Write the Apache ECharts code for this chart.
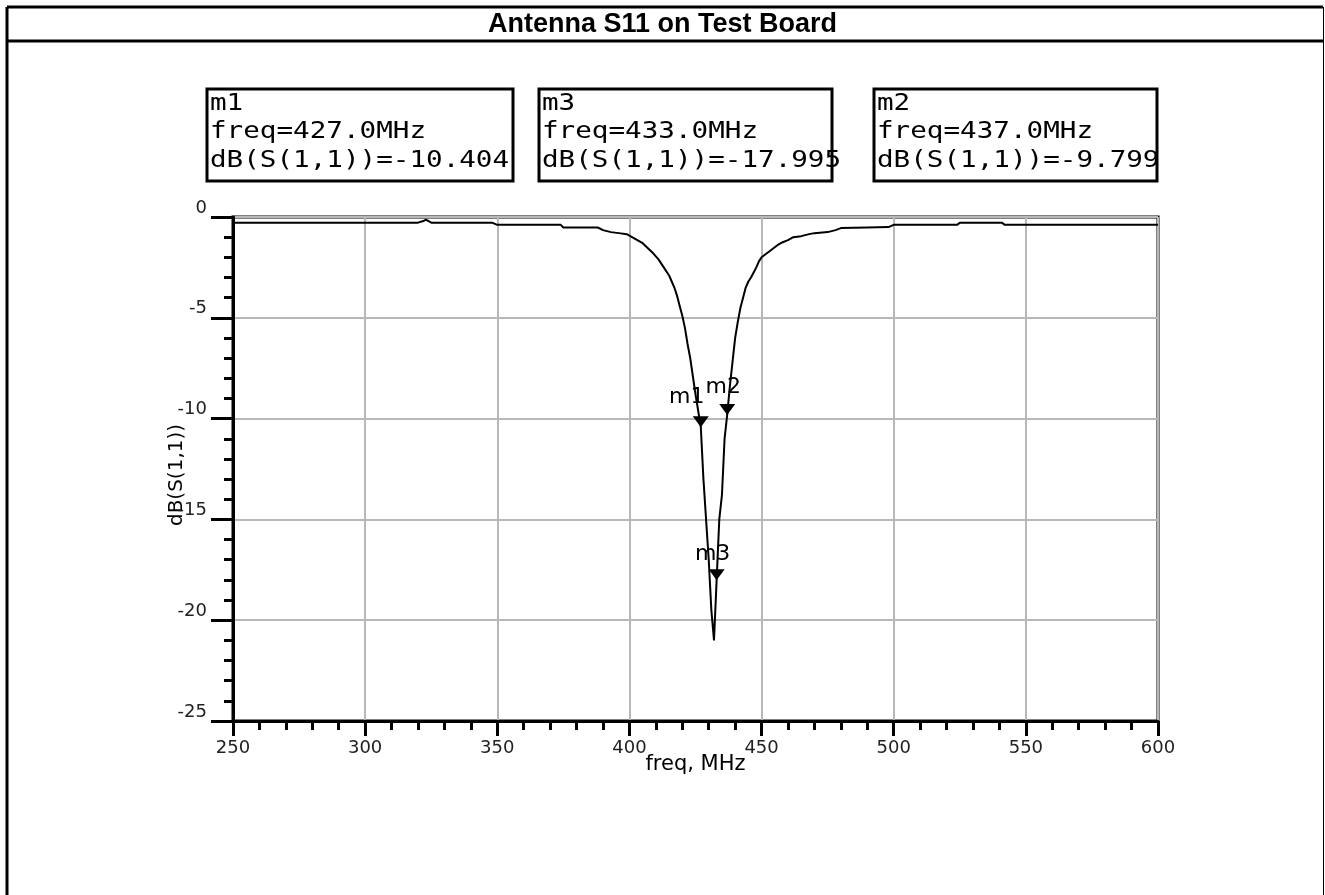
<!DOCTYPE html>
<html>
<head>
<meta charset="utf-8">
<script src="https://cdn.jsdelivr.net/npm/echarts@6/dist/echarts.min.js"></script>
<style>
html,body{margin:0;padding:0;background:#fff;}
#chart{width:1325px;height:895px;}
</style>
</head>
<body>
<div id="chart"></div>
<script>
// ---- data ----
const title = 'Antenna S11 on Test Board';
const freqMHz = [250, 320, 322, 323, 325, 348, 350, 374, 375, 388, 390, 393, 396, 399, 401, 403, 405, 407, 409, 411, 413, 415, 416, 417, 418, 419, 420, 421, 422, 423, 424, 425, 426, 427, 428, 429, 430, 431, 432, 433, 434, 435, 436, 437, 438, 439, 440, 441, 442, 443, 444, 445, 446, 447, 448, 449, 450, 452, 454, 456, 458, 460, 462, 465, 468, 470, 475, 478, 480, 490, 498, 500, 524, 525, 541, 542, 600];
const s11dB = [-0.28, -0.28, -0.2, -0.13, -0.28, -0.28, -0.39, -0.39, -0.52, -0.52, -0.65, -0.75, -0.8, -0.85, -1.0, -1.15, -1.3, -1.55, -1.8, -2.1, -2.5, -2.9, -3.2, -3.5, -3.9, -4.4, -4.9, -5.5, -6.3, -7.0, -7.9, -8.8, -9.6, -10.404, -13.0, -15.0, -17.0, -19.5, -21.0, -17.995, -15.0, -13.8, -11.0, -9.799, -8.4, -7.2, -6.0, -5.2, -4.5, -4.0, -3.5, -3.2, -3.0, -2.75, -2.5, -2.2, -2.0, -1.8, -1.6, -1.4, -1.25, -1.15, -1.0, -0.95, -0.85, -0.8, -0.75, -0.65, -0.55, -0.52, -0.5, -0.39, -0.39, -0.28, -0.28, -0.39, -0.39];
const markerNames = ['m1', 'm3', 'm2'];
const markerFreq = [427.0, 433.0, 437.0];
const markerDB = [-10.404, -17.995, -9.799];
const xTicks = [250, 300, 350, 400, 450, 500, 550, 600];
const yTicks = [0, -5, -10, -15, -20, -25];

// ---- layout ----
const G = {left: 233, top: 217, right: 1158, bottom: 721};
const labelOffsets = {m1: [-14, -24], m2: [-4, -22], m3: [-4, -20]};
const boxX = [207, 539, 874];
const boxW = [306, 293, 283];

const chart = echarts.init(document.getElementById('chart'));
const monoFont = '"DejaVu Sans Mono", monospace';
const sansFont = '"DejaVu Sans", sans-serif';

const graphic = [
  {type: 'line', shape: {x1: 7, y1: 7, x2: 1323, y2: 7}, style: {stroke: '#000', lineWidth: 3}},
  {type: 'line', shape: {x1: 7, y1: 41, x2: 1323, y2: 41}, style: {stroke: '#000', lineWidth: 3}},
  {type: 'line', shape: {x1: 7, y1: 7, x2: 7, y2: 895}, style: {stroke: '#000', lineWidth: 3}},
  {type: 'line', shape: {x1: 1323.5, y1: 7, x2: 1323.5, y2: 895}, style: {stroke: '#000', lineWidth: 1}}
];
markerNames.forEach((n, i) => {
  graphic.push({type: 'rect', shape: {x: boxX[i], y: 89, width: boxW[i], height: 92},
    style: {fill: '#fff', stroke: '#000', lineWidth: 3}});
  const lines = [n, 'freq=' + markerFreq[i].toFixed(1) + 'MHz', 'dB(S(1,1))=' + markerDB[i].toFixed(3)];
  lines.forEach((t, k) => {
    graphic.push({type: 'text', x: boxX[i] + 3, y: 104 + k * 28.5, scaleX: 1.2,
      style: {text: t, font: '23px ' + monoFont, fill: '#000', verticalAlign: 'middle', align: 'left'}});
  });
});

const option = {
  animation: false,
  backgroundColor: '#fff',
  title: {text: title, left: 'center', top: 6,
    textStyle: {fontFamily: 'Liberation Sans, Arial', fontWeight: 'bold', fontSize: 27, color: '#000'}},
  grid: {left: G.left, top: G.top, width: G.right - G.left, height: G.bottom - G.top,
    show: true, borderColor: '#000', borderWidth: 3, backgroundColor: 'transparent'},
  xAxis: {
    type: 'value', min: 250, max: 600, interval: 50,
    name: 'freq, MHz', nameLocation: 'middle', nameGap: 33, nameMoveOverlap: false,
    nameTextStyle: {fontFamily: sansFont, fontSize: 21, color: '#000'},
    axisLine: {show: true, onZero: false, lineStyle: {color: '#000', width: 3}},
    axisTick: {show: true, inside: false, length: 15, lineStyle: {color: '#000', width: 3}},
    minorTick: {show: true, splitNumber: 5, length: 9, lineStyle: {color: '#000', width: 3}},
    splitLine: {show: true, lineStyle: {color: '#b8b8b8', width: 2}},
    axisLabel: {margin: 18, fontFamily: sansFont, fontSize: 18, color: '#222',
      formatter: v => xTicks.includes(v) ? String(v) : ''}
  },
  yAxis: {
    type: 'value', min: -25, max: 0, interval: 5,
    name: 'dB(S(1,1))', nameLocation: 'middle', nameGap: 46, nameRotate: 90, nameMoveOverlap: false,
    nameTextStyle: {fontFamily: sansFont, fontSize: 20, color: '#000', padding: [0, 12, 0, 0]},
    axisLine: {show: true, onZero: false, lineStyle: {color: '#000', width: 3}},
    axisTick: {show: true, inside: false, length: 22, lineStyle: {color: '#000', width: 3}},
    minorTick: {show: true, splitNumber: 5, length: 9, lineStyle: {color: '#000', width: 3}},
    splitLine: {show: true, lineStyle: {color: '#b8b8b8', width: 2}},
    axisLabel: {margin: 26, verticalAlign: 'bottom', fontFamily: sansFont, fontSize: 18, color: '#222',
      formatter: v => yTicks.includes(v) ? (v < 0 ? '-' + Math.abs(v) : String(v)) : ''}
  },
  series: [{
    type: 'line',
    data: freqMHz.map((f, i) => [f, s11dB[i]]),
    showSymbol: false,
    lineStyle: {color: '#000', width: 2},
    silent: true,
    markPoint: {
      symbol: 'triangle', symbolRotate: 180, symbolSize: [16, 11], symbolOffset: [0, -5],
      itemStyle: {color: '#000'},
      data: markerNames.map((n, i) => ({
        name: n, coord: [markerFreq[i], markerDB[i]],
        label: {show: true, formatter: n, position: 'inside', offset: labelOffsets[n],
          fontFamily: sansFont, fontSize: 22, color: '#000'}
      }))
    }
  }],
  graphic: graphic
};
chart.setOption(option);
</script>
</body>
</html>
